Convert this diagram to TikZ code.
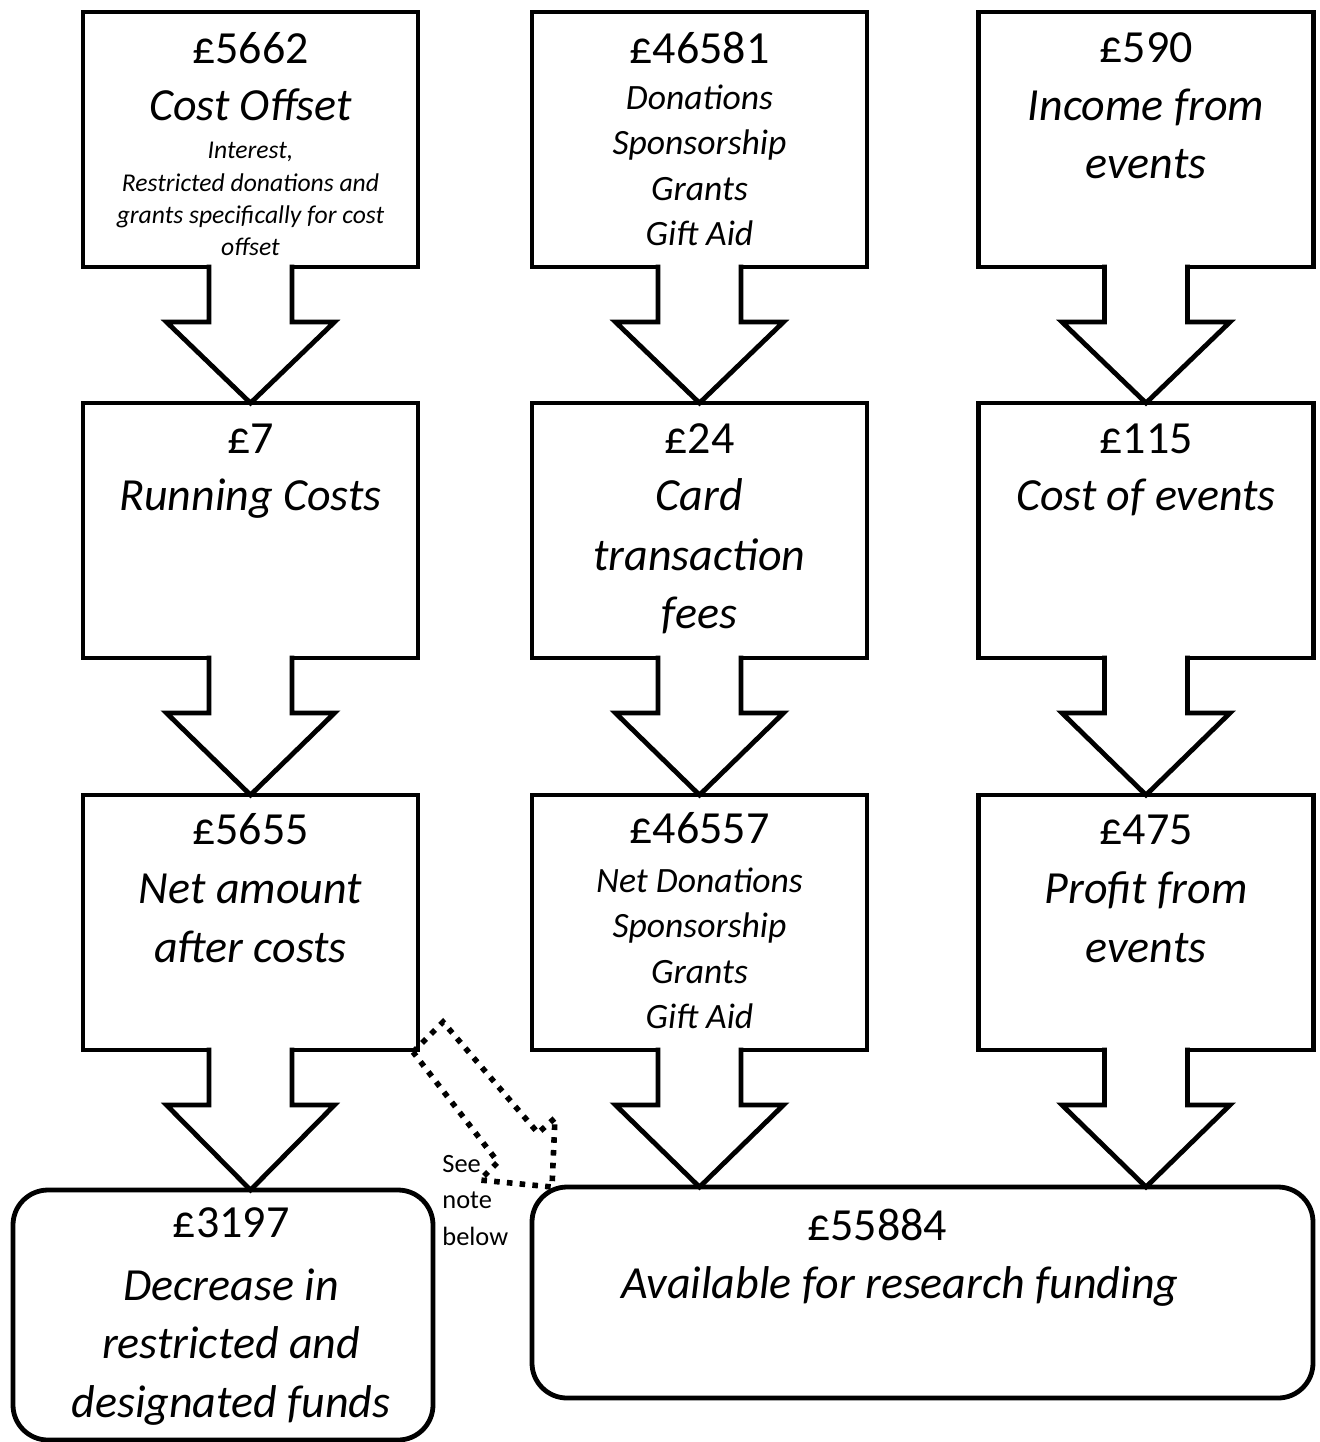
\documentclass[tikz,border=0pt]{standalone}
\usepackage{fontspec}
\setmainfont{Carlito}
\usetikzlibrary{calc}
\newcommand\blockarr[2]{%
  \filldraw[blockarrow] ($(#1.south)+(-41.5,-2.4)$) -- ($(#1.south)+(-41.5,55)$) -- ($(#1.south)+(-84,55)$) -- (#1.south |- #2.north) -- ($(#1.south)+(84,55)$) -- ($(#1.south)+(41.5,55)$) -- ($(#1.south)+(41.5,-2.4)$);}
\begin{document}
\begin{tikzpicture}[x=0.5pt,y=-0.5pt,
  box/.style={draw, line width=2.4pt, minimum width=167.5pt, minimum height=127.5pt, outer sep=0pt, inner sep=0pt, fill=white},
  rbox/.style={draw, line width=2.4pt, rounded corners=17.5pt, outer sep=0pt, inner sep=0pt},
  blockarrow/.style={draw, fill=white, line width=2.4pt, line join=miter},
  dotarrow/.style={line width=2.8pt, dash pattern=on 2.8pt off 3.6pt},
  numtxt/.style={font=\fontsize{23}{27}\selectfont, anchor=base, inner sep=0pt},
  bigtxt/.style={font=\fontsize{23}{27}\selectfont\itshape, anchor=base, inner sep=0pt},
  midtxt/.style={font=\fontsize{17.8}{21}\selectfont\itshape, anchor=base, inner sep=0pt},
  smltxt/.style={font=\fontsize{12.8}{15}\selectfont\itshape, anchor=base, inner sep=0pt},
  notetxt/.style={font=\fontsize{13.2}{15}\selectfont, anchor=base west, inner sep=0pt}
]
\useasboundingbox (0,0) rectangle (1319,1442);
% boxes
\node[box] (c11) at (250.5,139.5) {};
\node[box] (c21) at (699.5,139.5) {};
\node[box] (c31) at (1146,139.5) {};
\node[box] (c12) at (250.5,530.5) {};
\node[box] (c22) at (699.5,530.5) {};
\node[box] (c32) at (1146,530.5) {};
\node[box] (c13) at (250.5,922.5) {};
\node[box] (c23) at (699.5,922.5) {};
\node[box] (c33) at (1146,922.5) {};
\node[rbox, minimum width=210pt, minimum height=125pt] (bl) at (223,1315) {};
\node[rbox, minimum width=390.5pt, minimum height=105.5pt] (br) at (922.5,1292.5) {};
% block arrows
\blockarr{c11}{c12}
\blockarr{c21}{c22}
\blockarr{c31}{c32}
\blockarr{c12}{c13}
\blockarr{c22}{c23}
\blockarr{c32}{c33}
\blockarr{c13}{bl}
\blockarr{c23}{br}
\blockarr{c33}{br}
% dotted arrow
\coordinate (dtip) at ($(br.north west)+(20,0)$);
\draw[dotarrow] ($(c13.south east)+(-5,2)$) -- (443,1022) -- (538,1133) -- (555,1118) -- (dtip) -- (480,1180) -- (498,1162) -- cycle;
% texts column 1
\node[numtxt] (t11a) at (250.5,63) {£5662};
\node[bigtxt] (t11b) at (250.5,120) {Cost Offset};
\node[smltxt] (t11c) at (250.5,158) {Interest,};
\node[smltxt] (t11d) at (250.5,191) {Restricted donations and};
\node[smltxt] (t11e) at (250.5,223) {grants specifically for cost};
\node[smltxt] (t11f) at (250.5,255) {offset};
\node[numtxt] (t12a) at (250.5,453) {£7};
\node[bigtxt] (t12b) at (250.5,510) {Running Costs};
\node[numtxt] (t13a) at (250.5,844) {£5655};
\node[bigtxt] (t13b) at (250.5,903) {Net amount};
\node[bigtxt] (t13c) at (250.5,962) {after costs};
% column 2
\node[numtxt] (t21a) at (699.5,63) {£46581};
\node[midtxt] (t21b) at (699.5,109) {Donations};
\node[midtxt] (t21c) at (699.5,154) {Sponsorship};
\node[midtxt] (t21d) at (699.5,200) {Grants};
\node[midtxt] (t21e) at (699.5,245) {Gift Aid};
\node[numtxt] (t22a) at (699.5,453) {£24};
\node[bigtxt] (t22b) at (699.5,510) {Card};
\node[bigtxt] (t22c) at (699.5,570) {transaction};
\node[bigtxt] (t22d) at (699.5,628) {fees};
\node[numtxt] (t23a) at (699.5,843) {£46557};
\node[midtxt] (t23b) at (699.5,892) {Net Donations};
\node[midtxt] (t23c) at (699.5,937) {Sponsorship};
\node[midtxt] (t23d) at (699.5,983) {Grants};
\node[midtxt] (t23e) at (699.5,1028) {Gift Aid};
% column 3
\node[numtxt] (t31a) at (1146,62) {£590};
\node[bigtxt] (t31b) at (1146,120) {Income from};
\node[bigtxt] (t31c) at (1146,178) {events};
\node[numtxt] (t32a) at (1146,453) {£115};
\node[bigtxt] (t32b) at (1146,510) {Cost of events};
\node[numtxt] (t33a) at (1146,844) {£475};
\node[bigtxt] (t33b) at (1146,903) {Profit from};
\node[bigtxt] (t33c) at (1146,962) {events};
% bottom
\node[numtxt] (tbla) at (231,1237) {£3197};
\node[bigtxt] (tblb) at (231,1300) {Decrease in};
\node[bigtxt] (tblc) at (231,1358) {restricted and};
\node[bigtxt] (tbld) at (231,1417) {designated funds};
\node[numtxt] (tbra) at (877,1240) {£55884};
\node[bigtxt] (tbrb) at (900,1298) {Available for research funding};
% note
\node[notetxt] (n1) at (442,1172) {See};
\node[notetxt] (n2) at (442,1208) {note};
\node[notetxt] (n3) at (442,1245) {below};
\end{tikzpicture}
\end{document}
